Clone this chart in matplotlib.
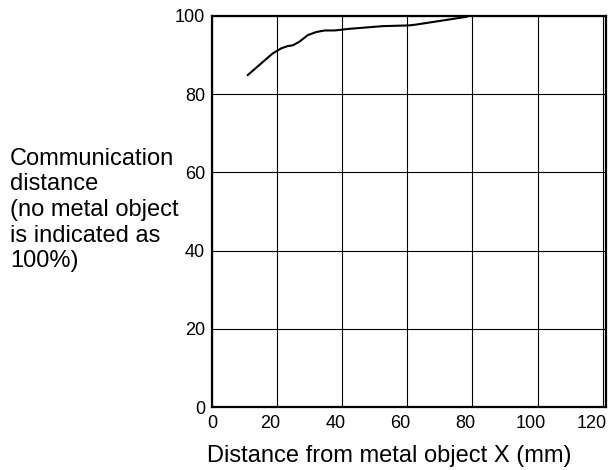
import numpy as np
import matplotlib
matplotlib.use('Agg')
import matplotlib.pyplot as plt
from matplotlib.transforms import ScaledTranslation

plt.rcParams['font.family'] = ['Liberation Sans', 'DejaVu Sans']

# curve
dist_x = [11, 15, 18.6, 21.2, 23.2, 24.8, 26.8, 29.4, 32, 34.6, 37.7, 41.9, 52.3, 60.6, 62.6, 68.9, 78.2]
comm_y = [84.9, 87.8, 90.4, 91.7, 92.3, 92.5, 93.4, 95.1, 95.9, 96.3, 96.3, 96.7, 97.4, 97.6, 97.8, 98.6, 99.8]

x_ticks = [0, 20, 40, 60, 80, 100, 120]
y_ticks = [0, 20, 40, 60, 80, 100]

fig = plt.figure(figsize=(6.08, 4.70), dpi=100)
ax = fig.add_axes([212/608, 1-407/470, 394/608, 391/470])

ax.plot(dist_x, comm_y, color='black', lw=1.5)

ax.set_xlim(0, 121)
ax.set_ylim(0, 100)
ax.set_xticks(x_ticks)
ax.set_yticks(y_ticks)
ax.grid(True, color='black', lw=0.8)
ax.tick_params(length=0, labelsize=13, pad=6)
ax.tick_params(axis='y', pad=5)
for s in ax.spines.values():
    s.set_linewidth(1.6)

# labels sit a bit left of their gridlines in the original
labs = ax.get_xticklabels()
for i, lab in enumerate(labs):
    if i > 0:
        dx = -0.11 if i == len(labs) - 1 else -0.07
        lab.set_transform(lab.get_transform() + ScaledTranslation(dx, 0, fig.dpi_scale_trans))

fig.text(10/608, 1-210/470,
         'Communication\ndistance\n(no metal object\nis indicated as\n100%)',
         ha='left', va='center', fontsize=17, linespacing=1.22)
fig.text(389/608, 1-456/470, 'Distance from metal object X (mm)',
         ha='center', va='center', fontsize=17)

fig.savefig('out.png', dpi=100)
